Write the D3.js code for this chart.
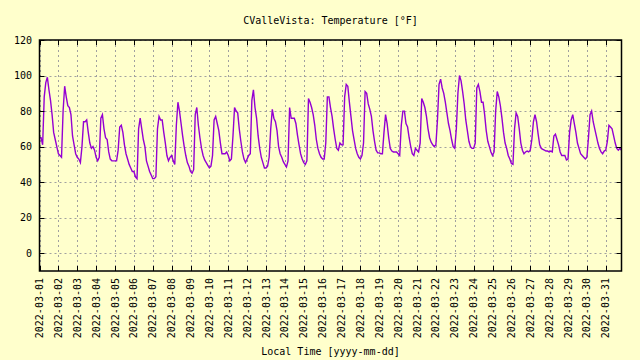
<!DOCTYPE html>
<html><head><meta charset="utf-8">
<script src="https://cdn.jsdelivr.net/npm/d3@7"></script>
<style>html,body{margin:0;padding:0;background:#ffffcc;} svg{display:block;}</style>
</head><body>
<svg id="chart" width="640" height="360"></svg>
<script>
const chartTitle = "CValleVista: Temperature [°F]";
const xAxisLabel = "Local Time [yyyy-mm-dd]";
const yTickValues = [0, 20, 40, 60, 80, 100, 120];
const yDomain = [-10, 120];
const firstDay = [2022, 2, 1];   // 2022-03-01
const stepHours = 2;              // readings every 2 hours
const lastReading = [2022, 2, 31, 20];

// Temperature [°F], one row per day (00:00, 02:00, ... 22:00)
const temps = [
  [65, 65, 61, 88, 96, 99, 92, 86, 78, 68, 64, 60],        // 03-01
  [56, 55, 54, 80, 94, 88, 83, 82, 78, 66, 61, 56],        // 03-02
  [54, 53, 51, 60, 74, 74, 75, 68, 62, 59, 60, 58],        // 03-03
  [54, 52, 54, 76, 78, 70, 65, 64, 57, 53, 52, 52],        // 03-04
  [52, 52, 58, 71, 72, 68, 61, 56, 53, 50, 48, 46],        // 03-05
  [46, 43, 42, 70, 76, 70, 64, 60, 52, 49, 46, 44],        // 03-06
  [42, 42, 43, 70, 77, 75, 75, 68, 62, 55, 52, 54],        // 03-07
  [55, 52, 50, 72, 85, 80, 73, 66, 60, 55, 51, 49],        // 03-08
  [46, 45, 47, 78, 82, 72, 65, 59, 55, 52.5, 51, 49.5],    // 03-09
  [48, 49, 55, 75, 77, 73, 69, 62, 56, 56, 56, 57],        // 03-10
  [55, 52, 53, 66, 82, 80, 79, 70, 63, 57, 53, 51],        // 03-11
  [53, 55, 56, 86, 92, 82, 76, 66, 59, 54, 51, 48],        // 03-12
  [48, 49, 54, 70, 81, 76, 74, 69, 60, 56, 54, 51.5],      // 03-13
  [50, 48.5, 52, 82, 76, 76, 76, 73, 66.5, 61, 56, 53],    // 03-14
  [51, 50, 52, 87, 85, 82, 78, 72, 64, 59, 56, 54],        // 03-15
  [53, 53, 62, 88, 88, 82, 77, 70, 64, 59, 58, 62],        // 03-16
  [61, 61, 88, 95, 94, 85, 77, 69, 64, 59, 56, 54],        // 03-17
  [53, 55, 62, 91, 90, 84, 81, 77, 69, 63, 58, 56.5],      // 03-18
  [56.5, 56, 56, 68, 78, 73, 65, 59, 57.5, 57, 57, 57],    // 03-19
  [56, 55, 72, 80, 80, 73, 71, 65, 60, 56, 55, 59],        // 03-20
  [58, 57, 62, 87, 85, 82, 77, 70, 65, 62.5, 61, 60],      // 03-21
  [61, 75, 95, 98, 93, 90, 85, 79, 73, 69, 64, 60],        // 03-22
  [59, 70, 90, 100, 97, 91, 84, 75, 69, 63, 60, 59],       // 03-23
  [59, 62, 93, 95, 91, 85, 85, 78, 69, 63, 60, 57],        // 03-24
  [55, 57, 80, 91, 88, 83, 76, 68, 62, 59, 55, 53],        // 03-25
  [50.5, 50, 70, 79, 77, 70, 62, 58, 56, 57, 57.5, 57],    // 03-26
  [58, 64, 74, 78, 74, 67, 61, 59, 58.5, 58, 57.5, 57.5],  // 03-27
  [57, 57.5, 57, 66, 67, 64, 61, 57, 55, 55, 55, 52.5],    // 03-28
  [53, 68, 75, 78, 73, 68, 62, 59, 56, 55, 54, 53],        // 03-29
  [54, 65, 78, 80, 74, 70, 66, 62, 59, 57, 56, 57.5],      // 03-30
  [58, 63, 72, 71, 70, 66, 62, 59, 58, 59, 58]             // 03-31
];

const data = [];
temps.forEach((row, d) => row.forEach((v, i) => {
  data.push({ t: new Date(Date.UTC(firstDay[0], firstDay[1], firstDay[2] + d, i * stepHours)), v });
}));

const W = 640, H = 360;
const L = 39.5, R = 621.5, T = 40, B = 271;
const font = "'DejaVu Sans Mono', monospace";
const svg = d3.select("#chart");
svg.append("rect").attr("width", W).attr("height", H).attr("fill", "#ffffcc");

const x = d3.scaleUtc()
  .domain([new Date(Date.UTC(firstDay[0], firstDay[1], firstDay[2])),
           new Date(Date.UTC(lastReading[0], lastReading[1], lastReading[2], lastReading[3]))])
  .range([L, R]);
const y = d3.scaleLinear().domain(yDomain).range([B, T]);
const days = x.ticks(d3.utcDay.every(1));
const fmt = d3.utcFormat("%Y-%m-%d");

const grid = svg.append("g").attr("stroke", "#a0a0a0").attr("stroke-width", 1).attr("stroke-dasharray", "2,3");
days.forEach(t => grid.append("line").attr("x1", Math.round(x(t)) + 0.5).attr("x2", Math.round(x(t)) + 0.5).attr("y1", T).attr("y2", B));
yTickValues.forEach(v => grid.append("line").attr("x1", L).attr("x2", R).attr("y1", Math.round(y(v)) + 0.5).attr("y2", Math.round(y(v)) + 0.5));

svg.append("path").datum(data)
  .attr("fill", "none").attr("stroke", "#9400d3").attr("stroke-width", 1.4)
  .attr("d", d3.line().x(d => x(d.t)).y(d => y(d.v)));

const tk = svg.append("g").attr("stroke", "#000").attr("stroke-width", 1);
days.forEach(t => {
  const xx = Math.round(x(t)) + 0.5;
  tk.append("line").attr("x1", xx).attr("x2", xx).attr("y1", B).attr("y2", B - 5);
  tk.append("line").attr("x1", xx).attr("x2", xx).attr("y1", T).attr("y2", T + 5);
});
yTickValues.forEach(v => {
  const yy = Math.round(y(v)) + 0.5;
  tk.append("line").attr("x1", L).attr("x2", L + 5).attr("y1", yy).attr("y2", yy);
  tk.append("line").attr("x1", R).attr("x2", R - 5).attr("y1", yy).attr("y2", yy);
});
svg.append("rect").attr("x", L).attr("y", T).attr("width", R - L).attr("height", B - T)
  .attr("fill", "none").attr("stroke", "#000").attr("stroke-width", 1.5);

svg.append("g").selectAll("text").data(yTickValues).join("text")
  .attr("x", 32).attr("y", v => y(v)).attr("dy", "0.35em")
  .attr("text-anchor", "end").attr("font-family", font).attr("font-size", 10).attr("fill", "#000")
  .text(v => v);

svg.append("g").selectAll("text").data(days).join("text")
  .attr("transform", t => `translate(${x(t)},278) rotate(-90)`)
  .attr("dy", "0.35em").attr("text-anchor", "end")
  .attr("font-family", font).attr("font-size", 10).attr("fill", "#000")
  .text(t => fmt(t));

svg.append("text").attr("x", (L + R) / 2).attr("y", 24).attr("text-anchor", "middle")
  .attr("font-family", font).attr("font-size", 10).attr("fill", "#000").text(chartTitle);
svg.append("text").attr("x", (L + R) / 2).attr("y", 355).attr("text-anchor", "middle")
  .attr("font-family", font).attr("font-size", 10).attr("fill", "#000").text(xAxisLabel);
</script>
</body></html>
